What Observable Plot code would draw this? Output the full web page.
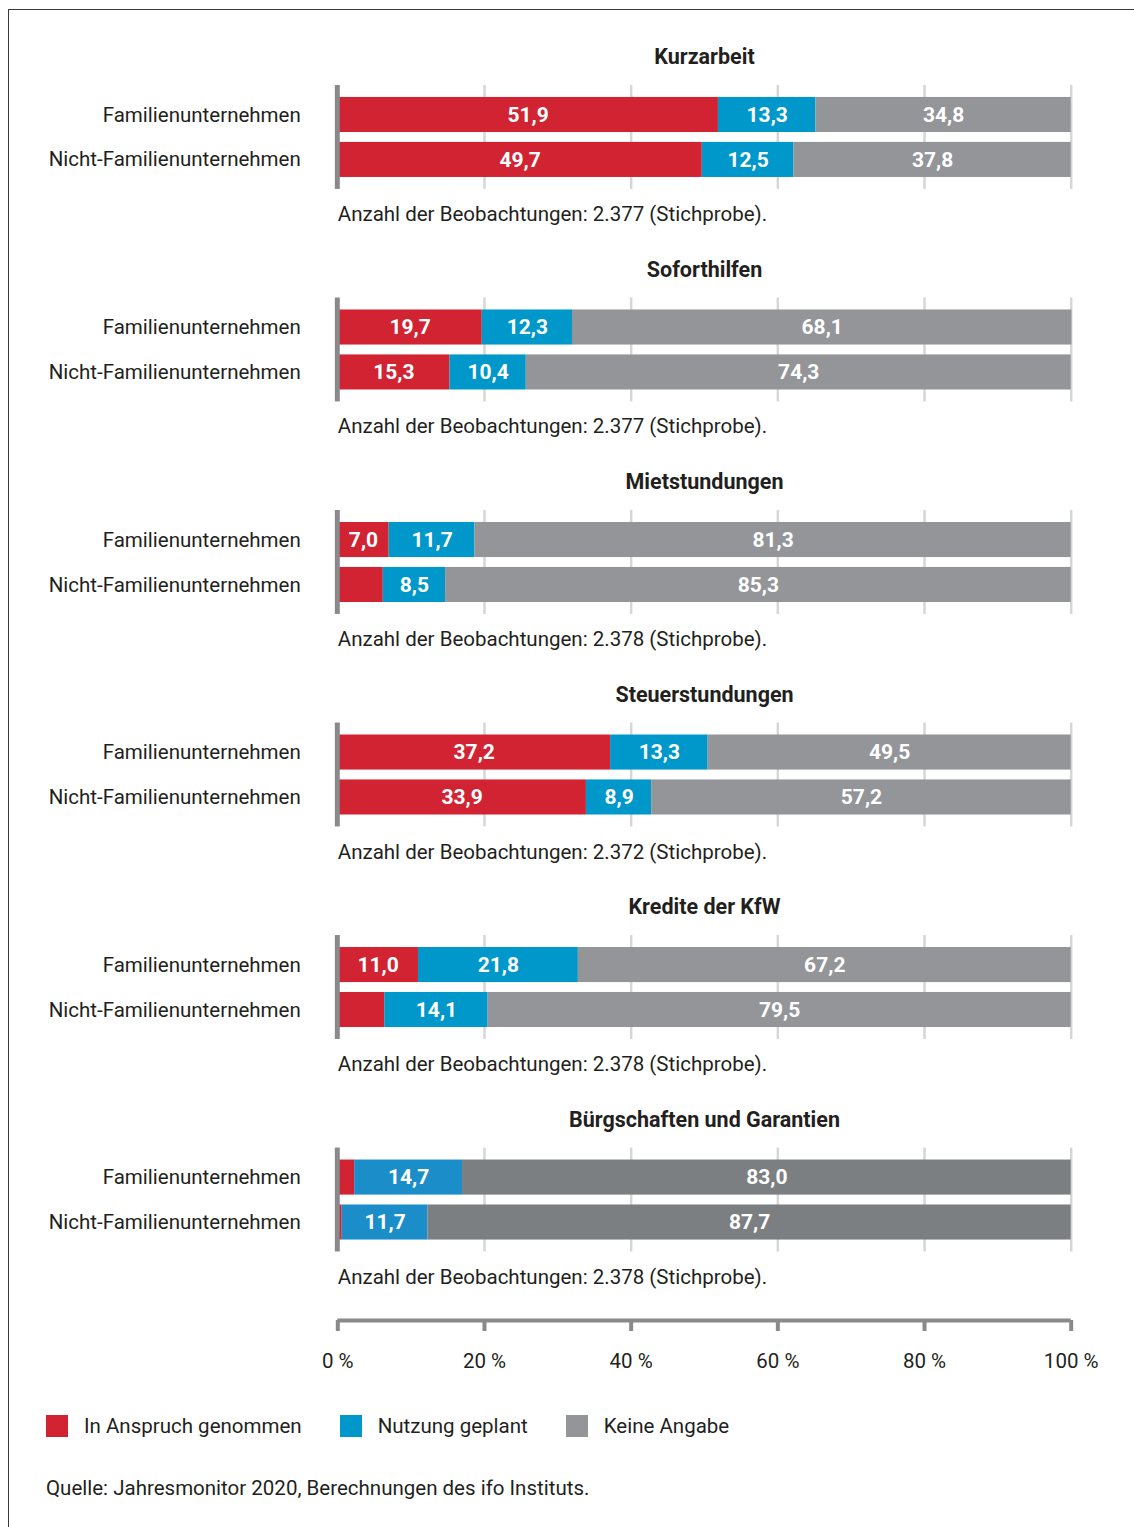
<!DOCTYPE html>
<html>
<head>
<meta charset="utf-8">
<script src="https://cdn.jsdelivr.net/npm/d3@7"></script>
<script src="https://cdn.jsdelivr.net/npm/@observablehq/plot@0.6"></script>
<style>
  html, body { margin: 0; padding: 0; background: #fff; }
  body { width: 1134px; height: 1527px; position: relative; overflow: hidden; font-family: Roboto, sans-serif; color: #231f20; }
  #frame { position: absolute; left: 8px; top: 9px; width: 1200px; height: 1600px; border-left: 1.5px solid #3a3a3a; border-top: 1.5px solid #3a3a3a; }
  #main { position: absolute; left: 0; top: 0; }
  #axis { position: absolute; left: 0; top: 1290px; }
  #legend { position: absolute; left: 46px; top: 1414px; display: flex; align-items: center; font-size: 20.5px; }
  .item { display: flex; align-items: center; }
  .sw { width: 22px; height: 22px; margin-right: 16px; }
  #source { position: absolute; left: 46px; top: 1476px; font-size: 20.5px; line-height: 24px; }
</style>
</head>
<body>
<div id="frame"></div>
<div id="main"></div>
<div id="axis"></div>
<div id="legend"></div>
<div id="source">Quelle: Jahresmonitor 2020, Berechnungen des ifo Instituts.</div>
<script>
// ---- data ----
const panels = ["Kurzarbeit", "Soforthilfen", "Mietstundungen", "Steuerstundungen", "Kredite der KfW", "Bürgschaften und Garantien"];
const groups = ["Familienunternehmen", "Nicht-Familienunternehmen"];
const categories = ["In Anspruch genommen", "Nutzung geplant", "Keine Angabe"];
const inAnspruch = [[51.9, 49.7], [19.7, 15.3], [7.0, 6.2], [37.2, 33.9], [11.0, 6.4], [2.3, 0.6]];
const geplant    = [[13.3, 12.5], [12.3, 10.4], [11.7, 8.5], [13.3, 8.9], [21.8, 14.1], [14.7, 11.7]];
const keine      = [[34.8, 37.8], [68.1, 74.3], [81.3, 85.3], [49.5, 57.2], [67.2, 79.5], [83.0, 87.7]];
const observations = ["2.377", "2.377", "2.378", "2.372", "2.378", "2.378"];
const xTicks = [0, 20, 40, 60, 80, 100];

// ---- styles ----
const palette = {
  standard: {"In Anspruch genommen": "#d22333", "Nutzung geplant": "#0097cb", "Keine Angabe": "#939598"},
  last:     {"In Anspruch genommen": "#d22333", "Nutzung geplant": "#1b8dc9", "Keine Angabe": "#7c7f81"}
};
const font = "Roboto, sans-serif";
const textColor = "#231f20";
const axisGrey = "#8a8a8c";

const rows = [];
panels.forEach((p, i) => groups.forEach((g, j) => {
  [inAnspruch, geplant, keine].forEach((arr, k) => {
    rows.push({panel: p, group: g, category: categories[k], value: arr[i][j], last: i === panels.length - 1});
  });
}));

const fmt = v => v.toFixed(1).replace(".", ",");

const W = 1134, H = 1290;
const mL = 337.3, mR = 63.3;

const main = Plot.plot({
  width: W, height: H,
  marginLeft: mL, marginRight: mR, marginTop: 85, marginBottom: 38.5,
  style: {fontFamily: font, fontSize: "20.5px", color: textColor, background: "transparent", overflow: "visible"},
  x: {domain: [0, 100], axis: null},
  y: {domain: groups, paddingInner: 0.22, paddingOuter: 0.266, round: false, tickSize: 0, tickPadding: 37, label: null},
  fy: {domain: panels, paddingInner: 0.511, paddingOuter: 0, round: false, axis: null},
  color: {type: "identity"},
  marks: [
    Plot.ruleX(xTicks.slice(1), {x: d => d, stroke: "#d6d6d6", strokeWidth: 2.5}),
    Plot.barX(rows, Plot.stackX({
      x: "value", y: "group", fy: "panel",
      fill: d => (d.last ? palette.last : palette.standard)[d.category]
    })),
    Plot.text(rows, Plot.stackX({
      x: "value", y: "group", fy: "panel",
      text: d => d.value >= 7 ? fmt(d.value) : "",
      fill: "white", fontWeight: "bold", fontSize: 21, fontFamily: font
    })),
    Plot.ruleX([0], {x: d => d, stroke: axisGrey, strokeWidth: 5, dx: -0.5}),
    Plot.text(panels, {
      fy: d => d, text: d => d, frameAnchor: "top", lineAnchor: "middle", dy: -28,
      fontWeight: "bold", fontSize: 21.5, fill: textColor, fontFamily: font
    }),
    Plot.text(panels, {
      fy: d => d, text: (d, i) => `Anzahl der Beobachtungen: ${observations[i]} (Stichprobe).`,
      frameAnchor: "bottom-left", lineAnchor: "middle", textAnchor: "start", dy: 25,
      fontSize: 20.5, fill: textColor, fontFamily: font
    })
  ]
});
document.getElementById("main").appendChild(main);

const axis = Plot.plot({
  width: W, height: 100,
  marginLeft: mL, marginRight: mR, marginTop: 20, marginBottom: 70,
  style: {fontFamily: font, fontSize: "20.5px", color: textColor, background: "transparent", overflow: "visible"},
  x: {domain: [0, 100], axis: null},
  y: {domain: [0, 1], axis: null},
  marks: [
    Plot.ruleY([0], {y: d => d, stroke: axisGrey, strokeWidth: 4, x1: 0, x2: 100}),
    Plot.axisX(xTicks, {
      anchor: "bottom", tickSize: 11, tickPadding: 22,
      stroke: axisGrey, strokeWidth: 4, fill: textColor,
      tickFormat: d => d + " %", label: null, fontSize: 20.5
    })
  ]
});
document.getElementById("axis").appendChild(axis);

// legend
const legend = document.getElementById("legend");
const legendGaps = [0, 38, 38];
categories.forEach((c, i) => {
  const item = document.createElement("div");
  item.className = "item";
  item.style.marginLeft = legendGaps[i] + "px";
  const sw = document.createElement("div");
  sw.className = "sw";
  sw.style.background = palette.standard[c];
  const lab = document.createElement("span");
  lab.textContent = c;
  item.appendChild(sw);
  item.appendChild(lab);
  legend.appendChild(item);
});
</script>
</body>
</html>
